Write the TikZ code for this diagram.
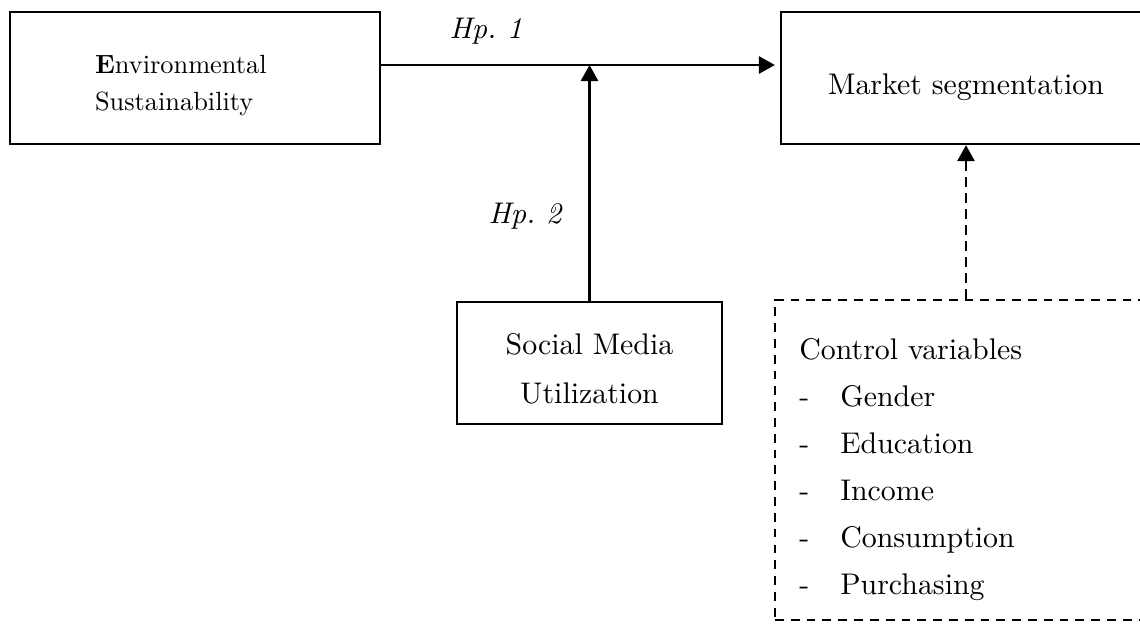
\documentclass[tikz,border=0pt]{standalone}
\usepackage{fontspec}
\setmainfont{lmroman10}[Extension=.otf, UprightFont=*-regular, BoldFont=*-bold, ItalicFont=*-italic]
\usetikzlibrary{arrows.meta, positioning}

\begin{document}
\begin{tikzpicture}[
    x=0.02cm, y=-0.02cm,
    varbox/.style={rectangle, draw=black, line width=1.3pt, minimum width=7.4cm, minimum height=2.64cm, inner sep=0pt, font=\fontsize{17}{28.3}\selectfont},
    ctrlbox/.style={rectangle, draw=black, line width=1.3pt, dash pattern=on 5pt off 4pt, minimum width=7.64cm, minimum height=6.4cm},
    listtext/.style={anchor=north west, inner sep=0pt, align=left, font=\fontsize{17}{26.8}\selectfont},
    hyp/.style={anchor=base, inner sep=0pt, font=\fontsize{17}{20}\selectfont\itshape},
    arrow/.style={-{Triangle[length=0.32cm, width=0.34cm]}, line width=1.6pt},
    dasharrow/.style={arrow, dash pattern=on 5.7pt off 3.4pt}
]
\useasboundingbox (0,0) rectangle (1140,623);

% variables
\node[varbox, text width=4cm, align=left, font=\fontsize{15}{21.5}\selectfont] (env) at (195,78) {\rule{0pt}{19pt}\textbf{E}nvironmental\\Sustainability};
\node[varbox, text height=0.76cm, text depth=0.12cm] (market) at (966,78) {Market segmentation};
\node[varbox, minimum width=5.3cm, minimum height=2.44cm, align=center] (social) at (589.5,363) {\rule{0pt}{18.6pt}Social Media\\Utilization};

% control variables
\node[ctrlbox] (control) at (966,460) {};
\node[listtext] (ctrlvars) at (799,338) {Control variables\\
    \makebox[0.82cm][l]{-}Gender\\
    \makebox[0.82cm][l]{-}Education\\
    \makebox[0.82cm][l]{-}Income\\
    \makebox[0.82cm][l]{-}Consumption\\
    \makebox[0.82cm][l]{-}Purchasing};

% hypotheses
\coordinate (mod) at (589.5,65);
\draw[arrow, shorten >=0.1cm] (env.east |- mod) -- (market.west |- mod);
\draw[arrow] (social) -- (mod);
\draw[dasharrow] (control) -- (market);

\node[hyp] (hpone) at (486,38) {Hp.\ 1};
\node[hyp] (hptwo) at (525,223) {Hp.\ 2};
\end{tikzpicture}
\end{document}
